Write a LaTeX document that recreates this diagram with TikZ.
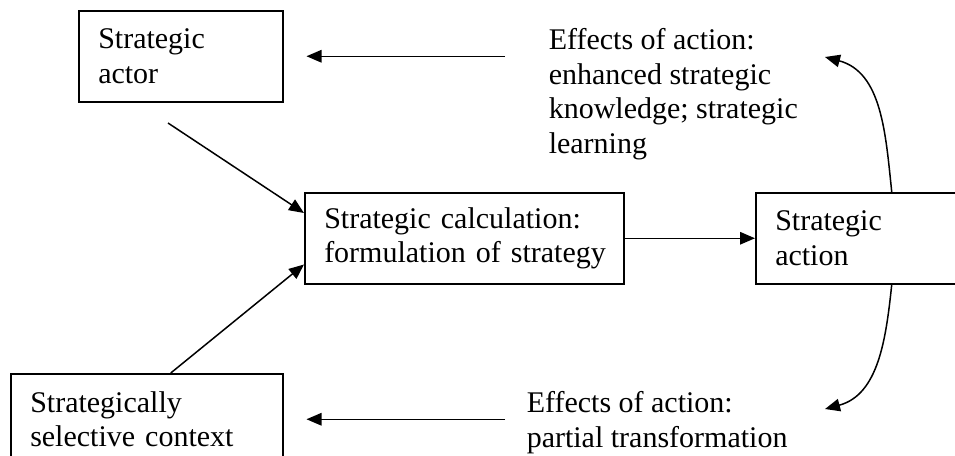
\documentclass[tikz,border=0pt]{standalone}
\usepackage{fontspec}
\setmainfont{Liberation Serif}
\usetikzlibrary{arrows.meta}

\begin{document}
\begin{tikzpicture}[
x=0.4pt, y=-0.4pt,
font=\fontsize{12pt}{13.8pt}\selectfont,
line width=0.6pt,
box/.style={draw, anchor=north west, align=left, inner xsep=7.8pt, minimum height=36.4pt},
effect/.style={anchor=north west, align=left, inner sep=0pt},
arr/.style={-{Triangle[length=6pt,width=5pt]}}
]
\useasboundingbox (0,0) rectangle (955,455);
\clip (0,0) rectangle (955,455);
\node[box, text width=66pt] (actor) at (78,10) {Strategic\\actor};
\node[box, text width=112pt] (calc) at (304,192) {Strategic calculation:\\\mbox{formulation of strategy}};
\node[box, text width=93.2pt] (action) at (755,192) {Strategic\\action};
\node[box, text width=93.2pt] (context) at (10,373) {Strategically\\selective context};
\node[effect] (learning) at (548,28) {Effects of action:\\enhanced strategic\\knowledge; strategic\\learning};
\node[effect] (change) at (526,391) {Effects of action:\\partial transformation};
\coordinate (actorout) at (168,123);
\coordinate (learnin) at (825,57);
\coordinate (changein) at (825,409);
\draw[arr] (actorout) -- ([yshift=-8.4pt]calc.north west);
\draw[arr] ([xshift=9.6pt]context.north) -- ([yshift=8pt]calc.south west);
\draw[arr] (calc.east) -- (action.west);
\draw[arr, shorten <=17.2pt, shorten >=9.2pt] (actor.east -| learning.west) -- (actor.east);
\draw[arr, shorten <=8.4pt, shorten >=9.2pt] (context.east -| change.west) -- (context.east);
\draw[arr] (action.north) to[out=96, in=-15] (learnin);
\draw[arr] (action.south) to[out=-96, in=15] (changein);
\end{tikzpicture}
\end{document}
